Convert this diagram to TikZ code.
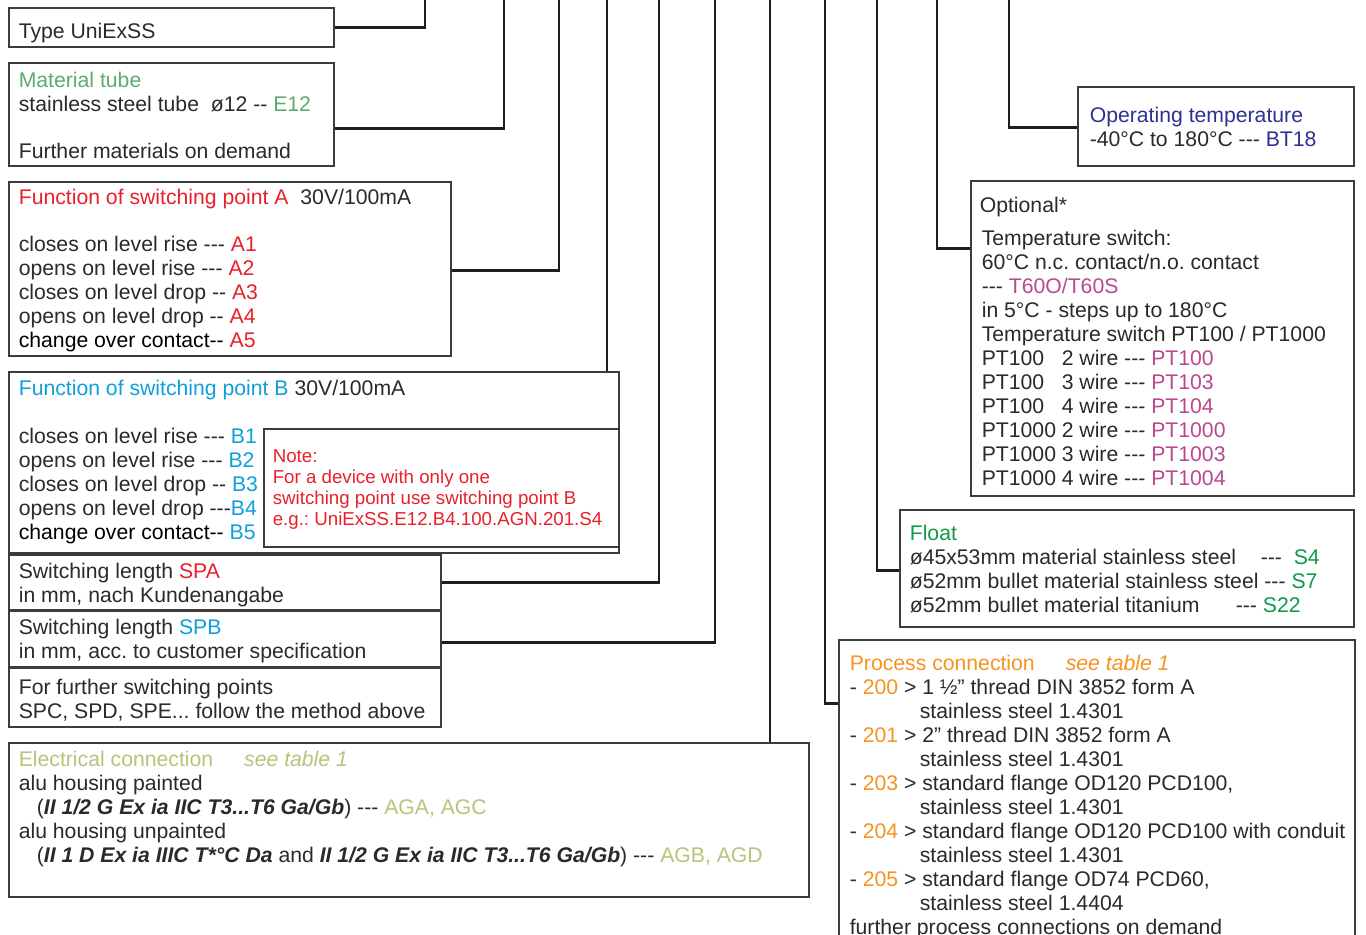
\documentclass[tikz,border=0pt]{standalone}
\usepackage{fontspec}
\setmainfont{Liberation Sans}
\usetikzlibrary{fit}

\definecolor{ink}{HTML}{2A2A2A}
\definecolor{boxgray}{HTML}{3C3C3C}
\definecolor{linkgray}{HTML}{1E1E1E}
\definecolor{matgreen}{HTML}{5DAA72}
\definecolor{ared}{HTML}{E8202A}
\definecolor{bblue}{HTML}{0FA0DC}
\definecolor{opblue}{HTML}{2E3192}
\definecolor{optpink}{HTML}{B9498E}
\definecolor{fltgreen}{HTML}{0E9A48}
\definecolor{pcorange}{HTML}{F7931E}
\definecolor{elgreen}{HTML}{B7C47A}

\newcommand{\bodyfont}{\fontsize{10.6pt}{12pt}\selectfont\frenchspacing}
\newcommand{\notefont}{\fontsize{9.35pt}{10.5pt}\selectfont\frenchspacing}
\newcommand{\tdash}{-\kern0pt-\kern0pt-}
\newcommand{\ddash}{-\kern0pt-}

\tikzset{
    box/.style={draw=boxgray, line width=0.6pt, fill=white, inner sep=0pt},
    link/.style={draw=linkgray, line width=1.3pt},
    txt/.style={anchor=north west, inner sep=0pt, align=left, font=\bodyfont, text=ink},
}

\begin{document}
\begin{tikzpicture}[x=0.5pt, y=-0.5pt]
    \useasboundingbox (0,0) rectangle (1366,935);

    % Left column
    \node[box, fit={(9,8) (334,47)}] (typeBox) {};
    \node[txt] (typeTxt) at ([shift={(10,14)}]typeBox.north west) {\strut Type UniExSS};

    \node[box, fit={(9,63) (334,166)}] (matBox) {};
    \node[txt] (matTxt) at ([shift={(10,8)}]matBox.north west) {\strut\textcolor{matgreen}{Material tube}\\
        stainless steel tube\ \ ø12 \ddash{} \textcolor{matgreen}{E12}\\[11.5pt]
        Further materials on demand};

    \node[box, fit={(9,182) (451,356)}] (aBox) {};
    \node[txt] (aTxt) at ([shift={(10,6)}]aBox.north west) {\strut\textcolor{ared}{Function of switching point A}\ \ 30V/100mA\\[11.5pt]
        closes on level rise \tdash{} \textcolor{ared}{A1}\\
        opens on level rise \tdash{} \textcolor{ared}{A2}\\
        closes on level drop \ddash{} \textcolor{ared}{A3}\\
        opens on level drop \ddash{} \textcolor{ared}{A4}\\
        \textcolor{black}{change over contact\ddash{}} \textcolor{ared}{A5}};

    \node[box, fit={(9,372) (619,553)}] (bBox) {};
    \node[txt] (bTxt) at ([shift={(10,7)}]bBox.north west) {\strut\textcolor{bblue}{Function of switching point B} 30V/100mA\\[12pt]
        closes on level rise \tdash{} \textcolor{bblue}{B1}\\
        opens on level rise \tdash{} \textcolor{bblue}{B2}\\
        closes on level drop \ddash{} \textcolor{bblue}{B3}\\
        opens on level drop \tdash\textcolor{bblue}{B4}\\
        \textcolor{black}{change over contact\ddash{}} \textcolor{bblue}{B5}};

    % Note inside B
    \node[box, fit={(264,429) (619,547)}] (noteBox) {};
    \node[txt, font=\notefont, text=ared] (noteTxt) at ([shift={(9,19)}]noteBox.north west) {\strut Note:\\
        For a device with only one\\
        switching point use switching point B\\
        e.g.: UniExSS.E12.B4.100.AGN.201.S4};

    \node[box, fit={(9,555) (441,610)}] (spaBox) {};
    \node[txt] (spaTxt) at ([shift={(10,7)}]spaBox.north west) {\strut Switching length \textcolor{ared}{SPA}\\
        in mm, nach Kundenangabe};

    \node[box, fit={(9,611) (441,667)}] (spbBox) {};
    \node[txt] (spbTxt) at ([shift={(10,7)}]spbBox.north west) {\strut Switching length \textcolor{bblue}{SPB}\\
        in mm, acc. to customer specification};

    \node[box, fit={(9,668) (441,727)}] (furBox) {};
    \node[txt] (furTxt) at ([shift={(10,10)}]furBox.north west) {\strut For further switching points\\
        SPC, SPD, SPE... follow the method above};

    \node[box, fit={(9,743) (809,897)}] (elBox) {};
    \node[txt] (elTxt) at ([shift={(10,7)}]elBox.north west) {\strut\textcolor{elgreen}{Electrical connection\hspace{15.5pt}\textit{see table 1}}\\
        alu housing painted\\
        \hspace*{9pt}(\textbf{\textit{II 1/2 G Ex ia IIC T3...T6 Ga/Gb}}) \tdash{} \textcolor{elgreen}{AGA, AGC}\\
        alu housing unpainted\\
        \hspace*{9pt}(\textbf{\textit{II 1 D Ex ia IIIC T*°C Da}} and \textbf{\textit{II 1/2 G Ex ia IIC T3...T6 Ga/Gb}}) \tdash{} \textcolor{elgreen}{AGB, AGD}};

    % Right column
    \node[box, fit={(1078,87) (1354,166)}] (opBox) {};
    \node[txt] (opTxt) at ([shift={(12,19)}]opBox.north west) {\strut\textcolor{opblue}{Operating temperature}\\
        -40°C to 180°C \tdash{} \textcolor{opblue}{BT18}};

    \node[box, fit={(971,181) (1354,496)}] (optBox) {};
    \node[txt] (optHead) at ([shift={(9,15)}]optBox.north west) {\strut Optional*};
    \node[txt] (optTxt) at ([shift={(11,48)}]optBox.north west) {\strut Temperature switch:\\
        60°C n.c. contact/n.o. contact\\
        \tdash{} \textcolor{optpink}{T60O/T60S}\\
        in 5°C - steps up to 180°C\\
        Temperature switch PT100 / PT1000\\
        \makebox[40pt][l]{PT100}2 wire \tdash{} \textcolor{optpink}{PT100}\\
        \makebox[40pt][l]{PT100}3 wire \tdash{} \textcolor{optpink}{PT103}\\
        \makebox[40pt][l]{PT100}4 wire \tdash{} \textcolor{optpink}{PT104}\\
        \makebox[40pt][l]{PT1000}2 wire \tdash{} \textcolor{optpink}{PT1000}\\
        \makebox[40pt][l]{PT1000}3 wire \tdash{} \textcolor{optpink}{PT1003}\\
        \makebox[40pt][l]{PT1000}4 wire \tdash{} \textcolor{optpink}{PT1004}};

    \node[box, fit={(900,510) (1354,627)}] (fltBox) {};
    \node[txt] (fltTxt) at ([shift={(10,14)}]fltBox.north west) {\strut\textcolor{fltgreen}{Float}\\
        \makebox[175.5pt][l]{ø45x53mm material stainless steel}\tdash\ \ \textcolor{fltgreen}{S4}\\
        ø52mm bullet material stainless steel \tdash{} \textcolor{fltgreen}{S7}\\
        \makebox[163pt][l]{ø52mm bullet material titanium}\tdash{} \textcolor{fltgreen}{S22}};

    \node[box, fit={(839,640) (1355,945)}] (pcBox) {};
    \node[txt] (pcTxt) at ([shift={(11,14)}]pcBox.north west) {\strut\textcolor{pcorange}{Process connection\hspace{15.5pt}\textit{see table 1}}\\
        - \textcolor{pcorange}{200} > 1 ½” thread DIN 3852 form A\\
        \hspace*{35pt}stainless steel 1.4301\\
        - \textcolor{pcorange}{201} > 2” thread DIN 3852 form A\\
        \hspace*{35pt}stainless steel 1.4301\\
        - \textcolor{pcorange}{203} > standard flange OD120 PCD100,\\
        \hspace*{35pt}stainless steel 1.4301\\
        - \textcolor{pcorange}{204} > standard flange OD120 PCD100 with conduit\\
        \hspace*{35pt}stainless steel 1.4301\\
        - \textcolor{pcorange}{205} > standard flange OD74 PCD60,\\
        \hspace*{35pt}stainless steel 1.4404\\
        further process connections on demand};

    % Leads up to the code line
    \coordinate (typeTop) at (425,-2);
    \coordinate (matTop) at (504,-2);
    \coordinate (aTop) at (559,-2);
    \coordinate (bTop) at (607,-2);
    \coordinate (spaTop) at (659,-2);
    \coordinate (spbTop) at (715,-2);
    \coordinate (elTop) at (770,-2);
    \coordinate (pcTop) at (825,-2);
    \coordinate (fltTop) at (877,-2);
    \coordinate (optTop) at (937,-2);
    \coordinate (opTop) at (1009,-2);

    \draw[link] (typeBox.east) -| (typeTop);
    \draw[link] ([shift={(0,66)}]matBox.north east) -| (matTop);
    \draw[link] ([shift={(0,89)}]aBox.north east) -| (aTop);
    \draw[link] (bTop) -- (bTop |- bBox.north);
    \draw[link] ([shift={(0,28)}]spaBox.north east) -| (spaTop);
    \draw[link] ([shift={(0,32)}]spbBox.north east) -| (spbTop);
    \draw[link] (elTop) -- (elTop |- elBox.north);
    \draw[link] ([shift={(0,64)}]pcBox.north west) -| (pcTop);
    \draw[link] ([shift={(0,61)}]fltBox.north west) -| (fltTop);
    \draw[link] ([shift={(0,68)}]optBox.north west) -| (optTop);
    \draw[link] ([shift={(0,41)}]opBox.north west) -| (opTop);
\end{tikzpicture}
\end{document}
